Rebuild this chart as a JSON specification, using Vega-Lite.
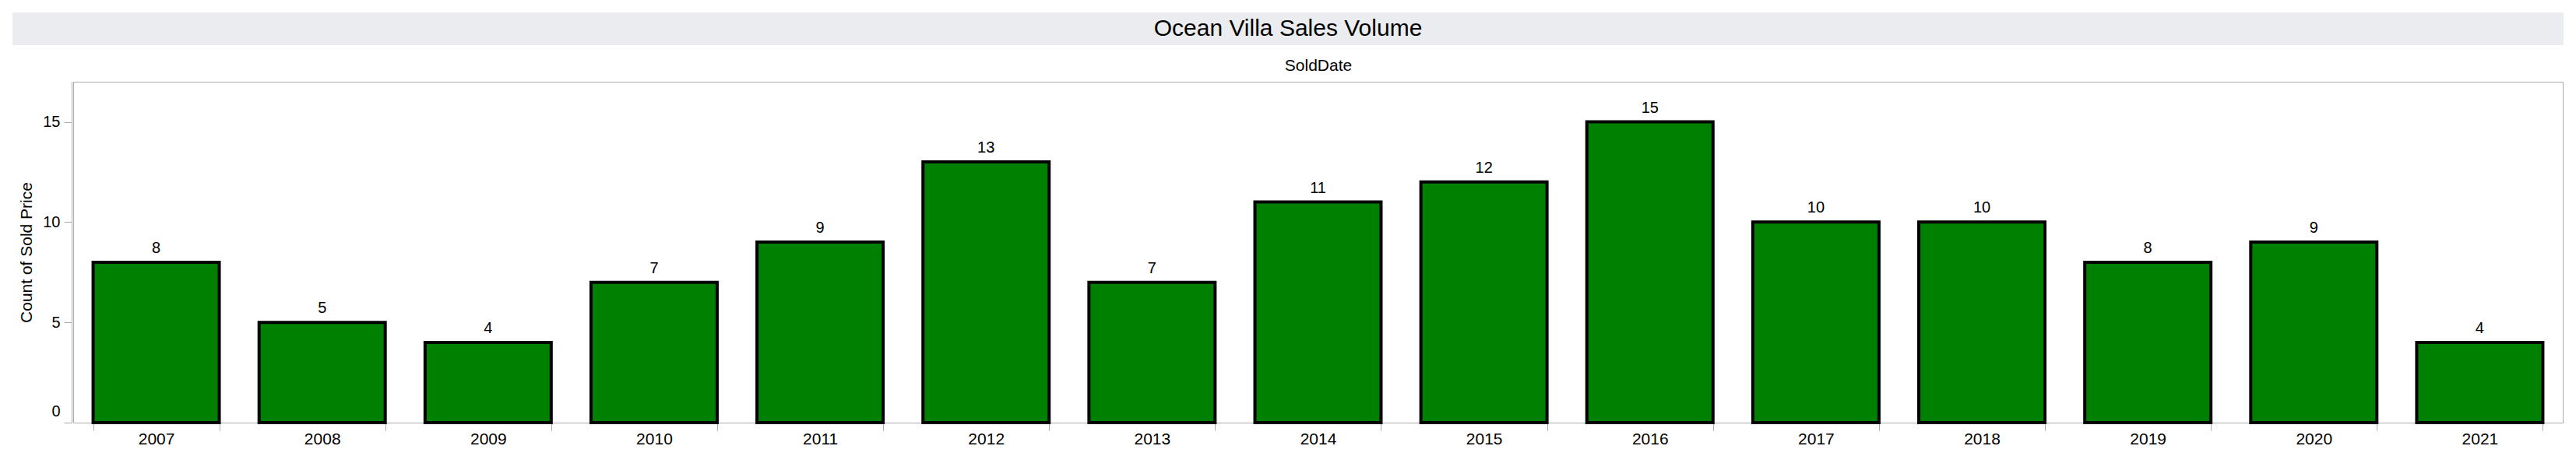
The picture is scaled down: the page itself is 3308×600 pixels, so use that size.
{
  "$schema": "https://vega.github.io/schema/vega-lite/v6.json",
  "padding": {"left": 16, "top": 16, "right": 16, "bottom": 0},
  "background": "white",
  "config": {"font": "Liberation Sans", "view": {"stroke": "#ababab"}},
  "spacing": 14,
  "vconcat": [
    {
      "width": 3276,
      "height": 42,
      "view": {"fill": "#EBECF0", "stroke": null},
      "data": {"values": [{"title": "Ocean Villa Sales Volume"}]},
      "mark": {"type": "text", "fontSize": 30, "color": "black", "baseline": "middle", "align": "center"},
      "encoding": {"text": {"field": "title"}}
    },
    {
      "data": {
        "values": [
          {"SoldDate": "2007", "count": 8},
          {"SoldDate": "2008", "count": 5},
          {"SoldDate": "2009", "count": 4},
          {"SoldDate": "2010", "count": 7},
          {"SoldDate": "2011", "count": 9},
          {"SoldDate": "2012", "count": 13},
          {"SoldDate": "2013", "count": 7},
          {"SoldDate": "2014", "count": 11},
          {"SoldDate": "2015", "count": 12},
          {"SoldDate": "2016", "count": 15},
          {"SoldDate": "2017", "count": 10},
          {"SoldDate": "2018", "count": 10},
          {"SoldDate": "2019", "count": 8},
          {"SoldDate": "2020", "count": 9},
          {"SoldDate": "2021", "count": 4}
        ]
      },
      "spacing": 0,
      "hconcat": [
        {
          "width": 76,
          "height": 438,
          "view": {"stroke": null},
          "mark": {"type": "point", "opacity": 0},
          "encoding": {
            "y": {
              "field": "count",
              "type": "quantitative",
              "scale": {"domain": [0, 17], "nice": false},
              "axis": {
                "orient": "left",
                "offset": -76,
                "values": [0, 5, 10, 15],
                "title": "Count of Sold Price",
                "titleFontSize": 21,
                "titleFontWeight": "normal",
                "titleColor": "black",
                "titlePadding": 10,
                "labelFontSize": 20,
                "labelColor": "black",
                "labelPadding": 5,
                "labelFlush": true,
                "labelFlushOffset": -5,
                "tickColor": "#ababab",
                "tickSize": 10,
                "domainColor": "#ababab",
                "grid": false
              }
            }
          }
        },
        {
          "width": 3197,
          "height": 438,
          "encoding": {
            "y": {
              "field": "count",
              "type": "quantitative",
              "scale": {"domain": [0, 17], "nice": false},
              "axis": null
            }
          },
          "layer": [
            {
              "mark": {"type": "bar", "fill": "#008000", "stroke": "black", "strokeWidth": 4},
              "encoding": {
                "x": {
                  "field": "SoldDate",
                  "type": "ordinal",
                  "scale": {"paddingInner": 0.24, "paddingOuter": 0.12},
                  "axis": {
                    "orient": "bottom",
                    "title": null,
                    "labelAngle": 0,
                    "tickBand": "extent",
                    "tickColor": "#ababab",
                    "tickSize": 10,
                    "domainColor": "#ababab",
                    "labelFontSize": 21,
                    "labelColor": "black",
                    "labelPadding": 0
                  }
                }
              }
            },
            {
              "mark": {"type": "text", "baseline": "alphabetic", "dy": -12, "fontSize": 20, "color": "black"},
              "encoding": {
                "x": {
                  "field": "SoldDate",
                  "type": "ordinal",
                  "axis": {
                    "orient": "top",
                    "title": "SoldDate",
                    "labels": false,
                    "ticks": false,
                    "domain": false,
                    "titleFontSize": 21,
                    "titleFontWeight": "normal",
                    "titleColor": "black",
                    "titlePadding": 11
                  }
                },
                "text": {"field": "count", "type": "quantitative"}
              }
            }
          ],
          "resolve": {"axis": {"x": "independent"}}
        }
      ]
    }
  ]
}
